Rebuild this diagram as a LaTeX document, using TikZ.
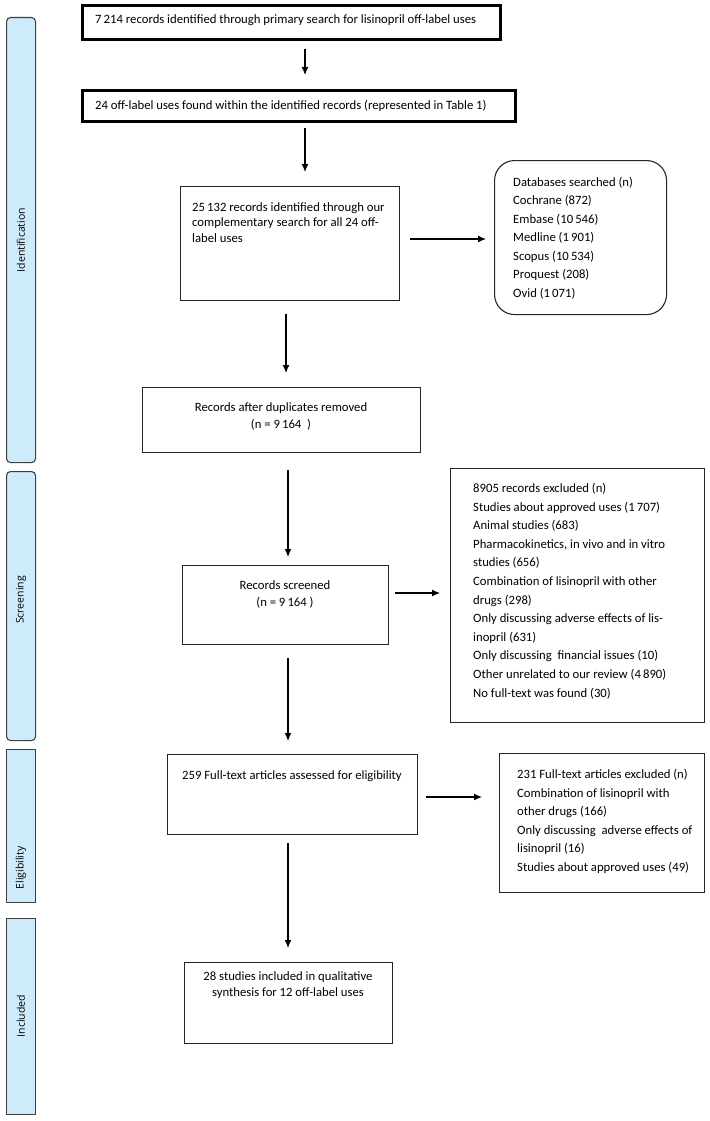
\documentclass[tikz,border=0pt]{standalone}
\usepackage{fontspec}
\setmainfont{Carlito}
\newfontfamily\barfont{Open Sans}
\usetikzlibrary{arrows.meta}
\definecolor{barblue}{HTML}{CDEBFB}
\begin{document}
\begin{tikzpicture}[x=1pt,y=-1pt,
  box/.style={draw=black!85, line width=1.1pt, inner sep=0pt, anchor=north west},
  thickbox/.style={draw=black, line width=3pt, inner sep=0pt, anchor=north west},
  bar/.style={draw=black!75, line width=1.1pt, fill=barblue, inner sep=0pt, anchor=north west, minimum width=29pt},
  barlabel/.style={rotate=90, font=\barfont\fontsize{10.5}{12}\selectfont, inner sep=0pt},
  txt/.style={inner sep=0pt, anchor=base west, align=left, font=\fontsize{12.7}{18.4}\selectfont},
  ctxt/.style={inner sep=0pt, anchor=base, align=center, font=\fontsize{12.7}{17}\selectfont},
  arr/.style={line width=1.2pt, -{Latex[length=8pt,width=7pt]}}
]
\useasboundingbox (0,0) rectangle (709,1121);

% side bars
\node[bar, rounded corners=4pt, minimum height=445pt] (idbar) at (6,17) {};
\node[barlabel] (idlab) at (21,240) {Identification};
\node[bar, rounded corners=4pt, minimum height=269pt] (scbar) at (6,471) {};
\node[barlabel] (sclab) at (21,600) {Screening};
\node[bar, minimum height=153pt] (elbar) at (6,749) {};
\node[barlabel] (ellab) at (21,868) {Eligibility};
\node[bar, minimum height=196pt] (inbar) at (6,918) {};
\node[barlabel] (inlab) at (21,1016) {Included};

% boxes
\node[thickbox, minimum width=418pt, minimum height=34pt] (b1) at (81,4) {};
\node[txt] (t1) at (95,23.5) {7\,214 records identified through primary search for lisinopril off-label uses};
\node[thickbox, minimum width=433pt, minimum height=31pt] (b2) at (81,89) {};
\node[txt] (t2) at (95,110) {24 off-label uses found within the identified records (represented in Table 1)};
\node[box, minimum width=219pt, minimum height=114pt] (b3) at (180,186) {};
\node[txt, font=\fontsize{12.7}{15.5}\selectfont] (t3) at (192,242) {25\,132 records identified through our\\complementary search for all 24 off-\\label uses};
\node[box, rounded corners=20pt, minimum width=172pt, minimum height=154pt] (db) at (494,160) {};
\node[txt, font=\fontsize{12.7}{18.5}\selectfont] (tdb) at (513,297) {Databases searched (n)\\Cochrane (872)\\Embase (10\,546)\\Medline (1\,901)\\Scopus (10\,534)\\Proquest (208)\\Ovid (1\,071)};
\node[box, minimum width=278pt, minimum height=65pt] (b4) at (142,387) {};
\node[ctxt] (t4) at (281,428) {Records after duplicates removed\\(n = 9\,164\ \ )};
\node[box, minimum width=206pt, minimum height=79pt] (b5) at (182,565) {};
\node[ctxt] (t5) at (285,606) {Records screened\\(n = 9\,164 )};
\node[box, minimum width=254pt, minimum height=254pt] (ex1) at (450,468) {};
\node[txt, font=\fontsize{12.7}{18.6}\selectfont] (tex1) at (473,697) {8905 records excluded (n)\\Studies about approved uses (1\,707)\\Animal studies (683)\\Pharmacokinetics, in vivo and in vitro\\studies (656)\\Combination of lisinopril with other\\drugs (298)\\Only discussing adverse effects of lis-\\inopril (631)\\Only discussing\ \ financial issues (10)\\Other unrelated to our review (4\,890)\\No full-text was found (30)};
\node[box, minimum width=250pt, minimum height=80pt] (b6) at (167,754) {};
\node[ctxt] (t6) at (292,779) {259 Full-text articles assessed for eligibility};
\node[box, minimum width=205pt, minimum height=139pt] (ex2) at (499,753) {};
\node[txt, font=\fontsize{12.7}{18.5}\selectfont] (tex2) at (517,871) {231 Full-text articles excluded (n)\\Combination of lisinopril with\\other drugs (166)\\Only discussing\ \ adverse effects of\\lisinopril (16)\\Studies about approved uses (49)};
\node[box, minimum width=208pt, minimum height=81pt] (b7) at (184,962) {};
\node[ctxt, font=\fontsize{12.7}{16.5}\selectfont] (t7) at (288,996.5) {28 studies included in qualitative\\synthesis for 12 off-label uses};

% connectors
\coordinate (xa) at (305,0);
\coordinate (xb) at (286,0);
\coordinate (xc) at (288,0);
\coordinate (ya) at (0,239);
\coordinate (yb) at (0,593);
\coordinate (yc) at (0,797);
\draw[arr, shorten <=8pt, shorten >=14pt] (b1.south -| xa) -- (b2.north -| xa);
\draw[arr, shorten <=5pt, shorten >=14pt] (b2.south -| xa) -- (b3.north -| xa);
\draw[arr, shorten <=10pt, shorten >=8pt] (b3.east |- ya) -- (db.west |- ya);
\draw[arr, shorten <=13pt, shorten >=14pt] (b3.south -| xb) -- (b4.north -| xb);
\draw[arr, shorten <=17pt, shorten >=8pt] (b4.south -| xc) -- (b5.north -| xc);
\draw[arr, shorten <=6pt, shorten >=10pt] (b5.east |- yb) -- (ex1.west |- yb);
\draw[arr, shorten <=13pt, shorten >=13pt] (b5.south -| xc) -- (b6.north -| xc);
\draw[arr, shorten <=8pt, shorten >=17pt] (b6.east |- yc) -- (ex2.west |- yc);
\draw[arr, shorten <=8pt, shorten >=14pt] (b6.south -| xc) -- (b7.north -| xc);
\end{tikzpicture}
\end{document}
